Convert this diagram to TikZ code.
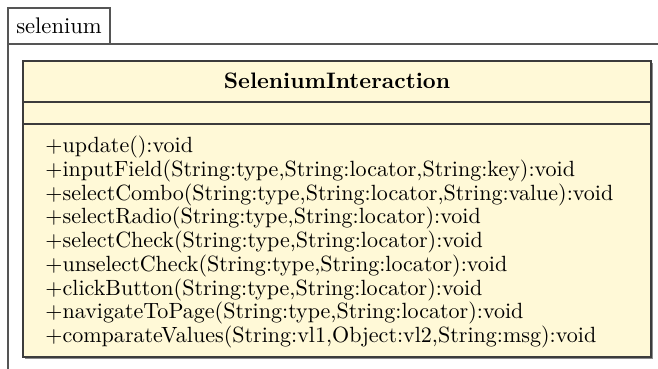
\documentclass[tikz,border=0pt]{standalone}
\usetikzlibrary{positioning}
\definecolor{umlfill}{RGB}{255,249,215}
\definecolor{umlline}{RGB}{60,60,60}
\definecolor{pkgline}{RGB}{85,85,85}
\begin{document}
\begin{tikzpicture}[x=0.4425pt,y=-0.4425pt,
  pkg/.style={draw=pkgline,line width=0.5pt},
  classbox/.style={draw=umlline,line width=0.6pt,fill=umlfill},
  sepline/.style={draw=umlline,line width=0.6pt},
  shadowbox/.style={fill=black!45},
  optext/.style={anchor=west,inner sep=0pt,font=\fontsize{9.75}{10.5}\selectfont},
  titletext/.style={inner sep=0pt,font=\fontsize{9.9}{10.5}\selectfont\bfseries}]
\useasboundingbox (0,0) rectangle (658,369);
% package tab and frame
\draw[pkg] (8,44) rectangle (110,8);
\node (pkgname) at (59,26) {selenium};
\draw[pkg] (658,44) -- (8,44) -- (8,369);
% class SeleniumInteraction with drop shadow
\fill[shadowbox] (25,63) rectangle (653,359);
\draw[classbox] (23,61) rectangle (651,357);
\coordinate (sepAL) at (23,102);
\coordinate (sepAR) at (651,102);
\coordinate (sepBL) at (23,124);
\coordinate (sepBR) at (651,124);
\draw[sepline] (sepAL) -- (sepAR);
\draw[sepline] (sepBL) -- (sepBR);
\node[titletext] (title) at (337,81) {SeleniumInteraction};
\foreach \i/\t in {0/{+update():void},
  1/{+inputField(String:type,String:locator,String:key):void},
  2/{+selectCombo(String:type,String:locator,String:value):void},
  3/{+selectRadio(String:type,String:locator):void},
  4/{+selectCheck(String:type,String:locator):void},
  5/{+unselectCheck(String:type,String:locator):void},
  6/{+clickButton(String:type,String:locator):void},
  7/{+navigateToPage(String:type,String:locator):void},
  8/{+comparateValues(String:vl1,Object:vl2,String:msg):void}}
  \node[optext] (op\i) at (45,{147+23.75*\i}) {\t};
\end{tikzpicture}
\end{document}
